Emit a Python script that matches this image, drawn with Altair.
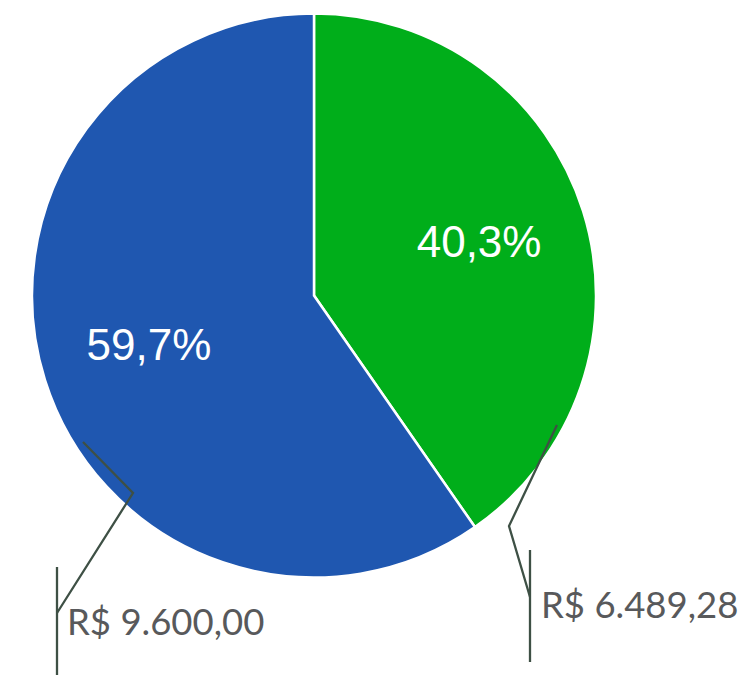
import altair as alt
import pandas as pd

# data
categories = ["Verde", "Azul"]
values = [6489.28, 9600.00]
pct_labels = ["40,3%", "59,7%"]
value_labels = ["R$ 6.489,28", "R$ 9.600,00"]
colors = ["#00AE1A", "#1F57B0"]

W, H = 742, 675
CX, CY, R = 314, 295.5, 282

pie_df = pd.DataFrame({"cat": categories, "value": values, "pct": pct_labels,
                       "order": [0, 1]})

# annotation layout (pixel space)
leader_groups = ["g", "g", "g", "gv", "gv", "b", "b", "b", "bv", "bv"]
leader_x = [557, 509, 530, 530, 530, 83, 133, 57, 57, 57]
leader_y = [425, 526, 597, 550, 662, 442, 493, 613, 567, 675]
lead_df = pd.DataFrame({"grp": leader_groups, "x": leader_x, "y": leader_y,
                        "i": list(range(len(leader_x)))})

label_x = [541, 67]
label_y = [618, 635]
lab_df = pd.DataFrame({"label": value_labels, "x": label_x, "y": label_y})

xs = alt.Scale(domain=[0, W], range=[0, W], nice=False, zero=False)
ys = alt.Scale(domain=[0, H], range=[0, H], nice=False, zero=False)

base = alt.Chart(pie_df).encode(
    theta=alt.Theta("value:Q", stack=True),
    order=alt.Order("order:Q"),
)

arc = base.mark_arc(outerRadius=R, stroke="white", strokeWidth=2.5).encode(
    color=alt.Color("cat:N", scale=alt.Scale(domain=categories, range=colors), legend=None),
    x=alt.value(CX), y=alt.value(CY),
)

pct = base.mark_text(radius=173, font="Liberation Sans", fontSize=44,
                     fill="white", align="center", baseline="middle").encode(
    text="pct:N", x=alt.value(CX), y=alt.value(CY),
)

lines = alt.Chart(lead_df).mark_line(color="#3E5045", strokeWidth=2.3).encode(
    x=alt.X("x:Q", scale=xs, axis=None),
    y=alt.Y("y:Q", scale=ys, axis=None),
    detail="grp:N",
    order="i:Q",
)

labels = alt.Chart(lab_df).mark_text(font="Lato", fontSize=36.5, color="#58595B",
                                     align="left", baseline="alphabetic").encode(
    x=alt.X("x:Q", scale=xs, axis=None),
    y=alt.Y("y:Q", scale=ys, axis=None),
    text="label:N",
)

chart = alt.layer(arc, pct, lines, labels).properties(
    width=W, height=H, autosize=alt.AutoSizeParams(type="none"), padding=0,
    background="white",
).configure_view(stroke=None)

chart.save("out.html", embed_options={"renderer": "svg", "actions": False})
